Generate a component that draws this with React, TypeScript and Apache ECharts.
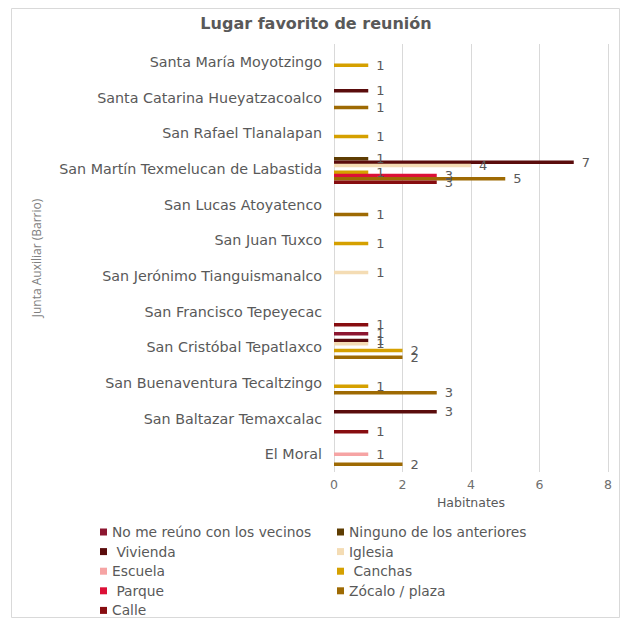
import React, { useEffect, useRef } from "react";
import * as echarts from "echarts";

const categories = [
  "El Moral",
  "San Baltazar Temaxcalac",
  "San Buenaventura Tecaltzingo",
  "San Cristóbal Tepatlaxco",
  "San Francisco Tepeyecac",
  "San Jerónimo Tianguismanalco",
  "San Juan Tuxco",
  "San Lucas Atoyatenco",
  "San Martín Texmelucan de Labastida",
  "San Rafael Tlanalapan",
  "Santa Catarina Hueyatzacoalco",
  "Santa María Moyotzingo",
];

const N = null;
const calle = [N, 1, N, N, 1, N, N, N, 3, N, N, N];
const zocalo = [2, N, 3, 2, N, N, N, 1, 5, N, 1, N];
const parque = [N, N, N, N, N, N, N, N, 3, N, N, N];
const canchas = [N, N, 1, 2, N, N, 1, N, 1, 1, N, 1];
const escuela = [1, N, N, N, N, N, N, N, N, N, N, N];
const iglesia = [N, N, N, 1, N, 1, N, N, 4, N, N, N];
const vivienda = [N, 3, N, 1, N, N, N, N, 7, N, 1, N];
const ninguno = [N, N, N, N, N, N, N, N, 1, N, N, N];
const noMeReuno = [N, N, N, 1, N, N, N, N, N, N, N, N];

const xTicks = [0, 2, 4, 6, 8];

// ECharts stacks horizontal bars top-down in series order
const seriesDefs = [
  { name: "No me reúno con los vecinos", data: noMeReuno, color: "#8c1630" },
  { name: "Ninguno de los anteriores", data: ninguno, color: "#5e3d02" },
  { name: " Vivienda", data: vivienda, color: "#5a0c0c" },
  { name: "Iglesia", data: iglesia, color: "#f4dcb4" },
  { name: "Escuela", data: escuela, color: "#f6a4a4" },
  { name: " Canchas", data: canchas, color: "#d5a000" },
  { name: " Parque", data: parque, color: "#dc1037" },
  { name: "Zócalo / plaza", data: zocalo, color: "#9e6a03" },
  { name: "Calle", data: calle, color: "#870d10" },
];

const legendCol1 = ["No me reúno con los vecinos", " Vivienda", "Escuela", " Parque", "Calle"];
const legendCol2 = ["Ninguno de los anteriores", "Iglesia", " Canchas", "Zócalo / plaza"];

const FONT = "DejaVu Sans";
const GRAY = "#595959";

export default function App() {
  const ref = useRef<HTMLDivElement>(null);
  useEffect(() => {
    if (!ref.current) return;
    const chart = echarts.init(ref.current, undefined, { renderer: "svg" });
    const legendBase = {
      orient: "vertical",
      top: 525,
      padding: 0,
      icon: "rect",
      itemWidth: 7,
      itemHeight: 7,
      itemGap: 5.6,
      textStyle: { color: GRAY, fontSize: 13.8, fontFamily: FONT, lineHeight: 14 },
      selectedMode: false,
    };
    chart.setOption({
      animation: false,
      backgroundColor: "#ffffff",
      title: {
        text: "Lugar favorito de reunión",
        left: "center",
        top: 10,
        textStyle: { color: GRAY, fontSize: 16, fontWeight: "bold", fontFamily: FONT },
      },
      graphic: [
        {
          type: "rect",
          shape: { x: 11.5, y: 8.5, width: 608, height: 609 },
          style: { fill: "none", stroke: "#d9d9d9", lineWidth: 1 },
          silent: true,
        },
      ],
      legend: [
        { ...legendBase, left: 100, data: legendCol1 },
        { ...legendBase, left: 337, data: legendCol2 },
      ],
      grid: { left: 334, right: 24, top: 44, bottom: 150, containLabel: false },
      xAxis: {
        type: "value",
        min: 0,
        max: 8,
        interval: 2,
        name: "Habitnates",
        nameLocation: "middle",
        nameGap: 24,
        nameTextStyle: { color: GRAY, fontSize: 12.5, fontFamily: FONT },
        axisLine: { show: false },
        axisTick: { show: false },
        axisLabel: {
          color: "#6f6f6f",
          fontSize: 12.5,
          fontFamily: FONT,
          margin: 6,
          formatter: (v: number) => (xTicks.includes(v) ? String(v) : ""),
        },
        splitLine: { show: true, lineStyle: { color: "#d9d9d9", width: 1 } },
      },
      yAxis: {
        type: "category",
        data: categories,
        name: "Junta Auxiliar (Barrio)",
        nameLocation: "middle",
        nameRotate: 90,
        nameGap: 292,
        nameTextStyle: { color: "#7f7f7f", fontSize: 12, fontFamily: "Liberation Sans Narrow, Open Sans" },
        axisLine: { show: false },
        axisTick: { show: false },
        axisLabel: { color: GRAY, fontSize: 14.3, fontFamily: FONT, margin: 12 },
        splitLine: { show: false },
      },
      series: seriesDefs.map((s) => ({
        type: "bar",
        name: s.name,
        data: s.data,
        barWidth: 3.5,
        barGap: "-5%",
        itemStyle: { color: s.color },
        label: {
          show: true,
          position: "right",
          distance: 8,
          color: GRAY,
          fontSize: 13,
          fontFamily: FONT,
        },
      })),
    });
    return () => chart.dispose();
  }, []);
  return (
    <div
      ref={ref}
      style={{ position: "fixed", left: 0, top: 0, width: 632, height: 622 }}
    />
  );
}
